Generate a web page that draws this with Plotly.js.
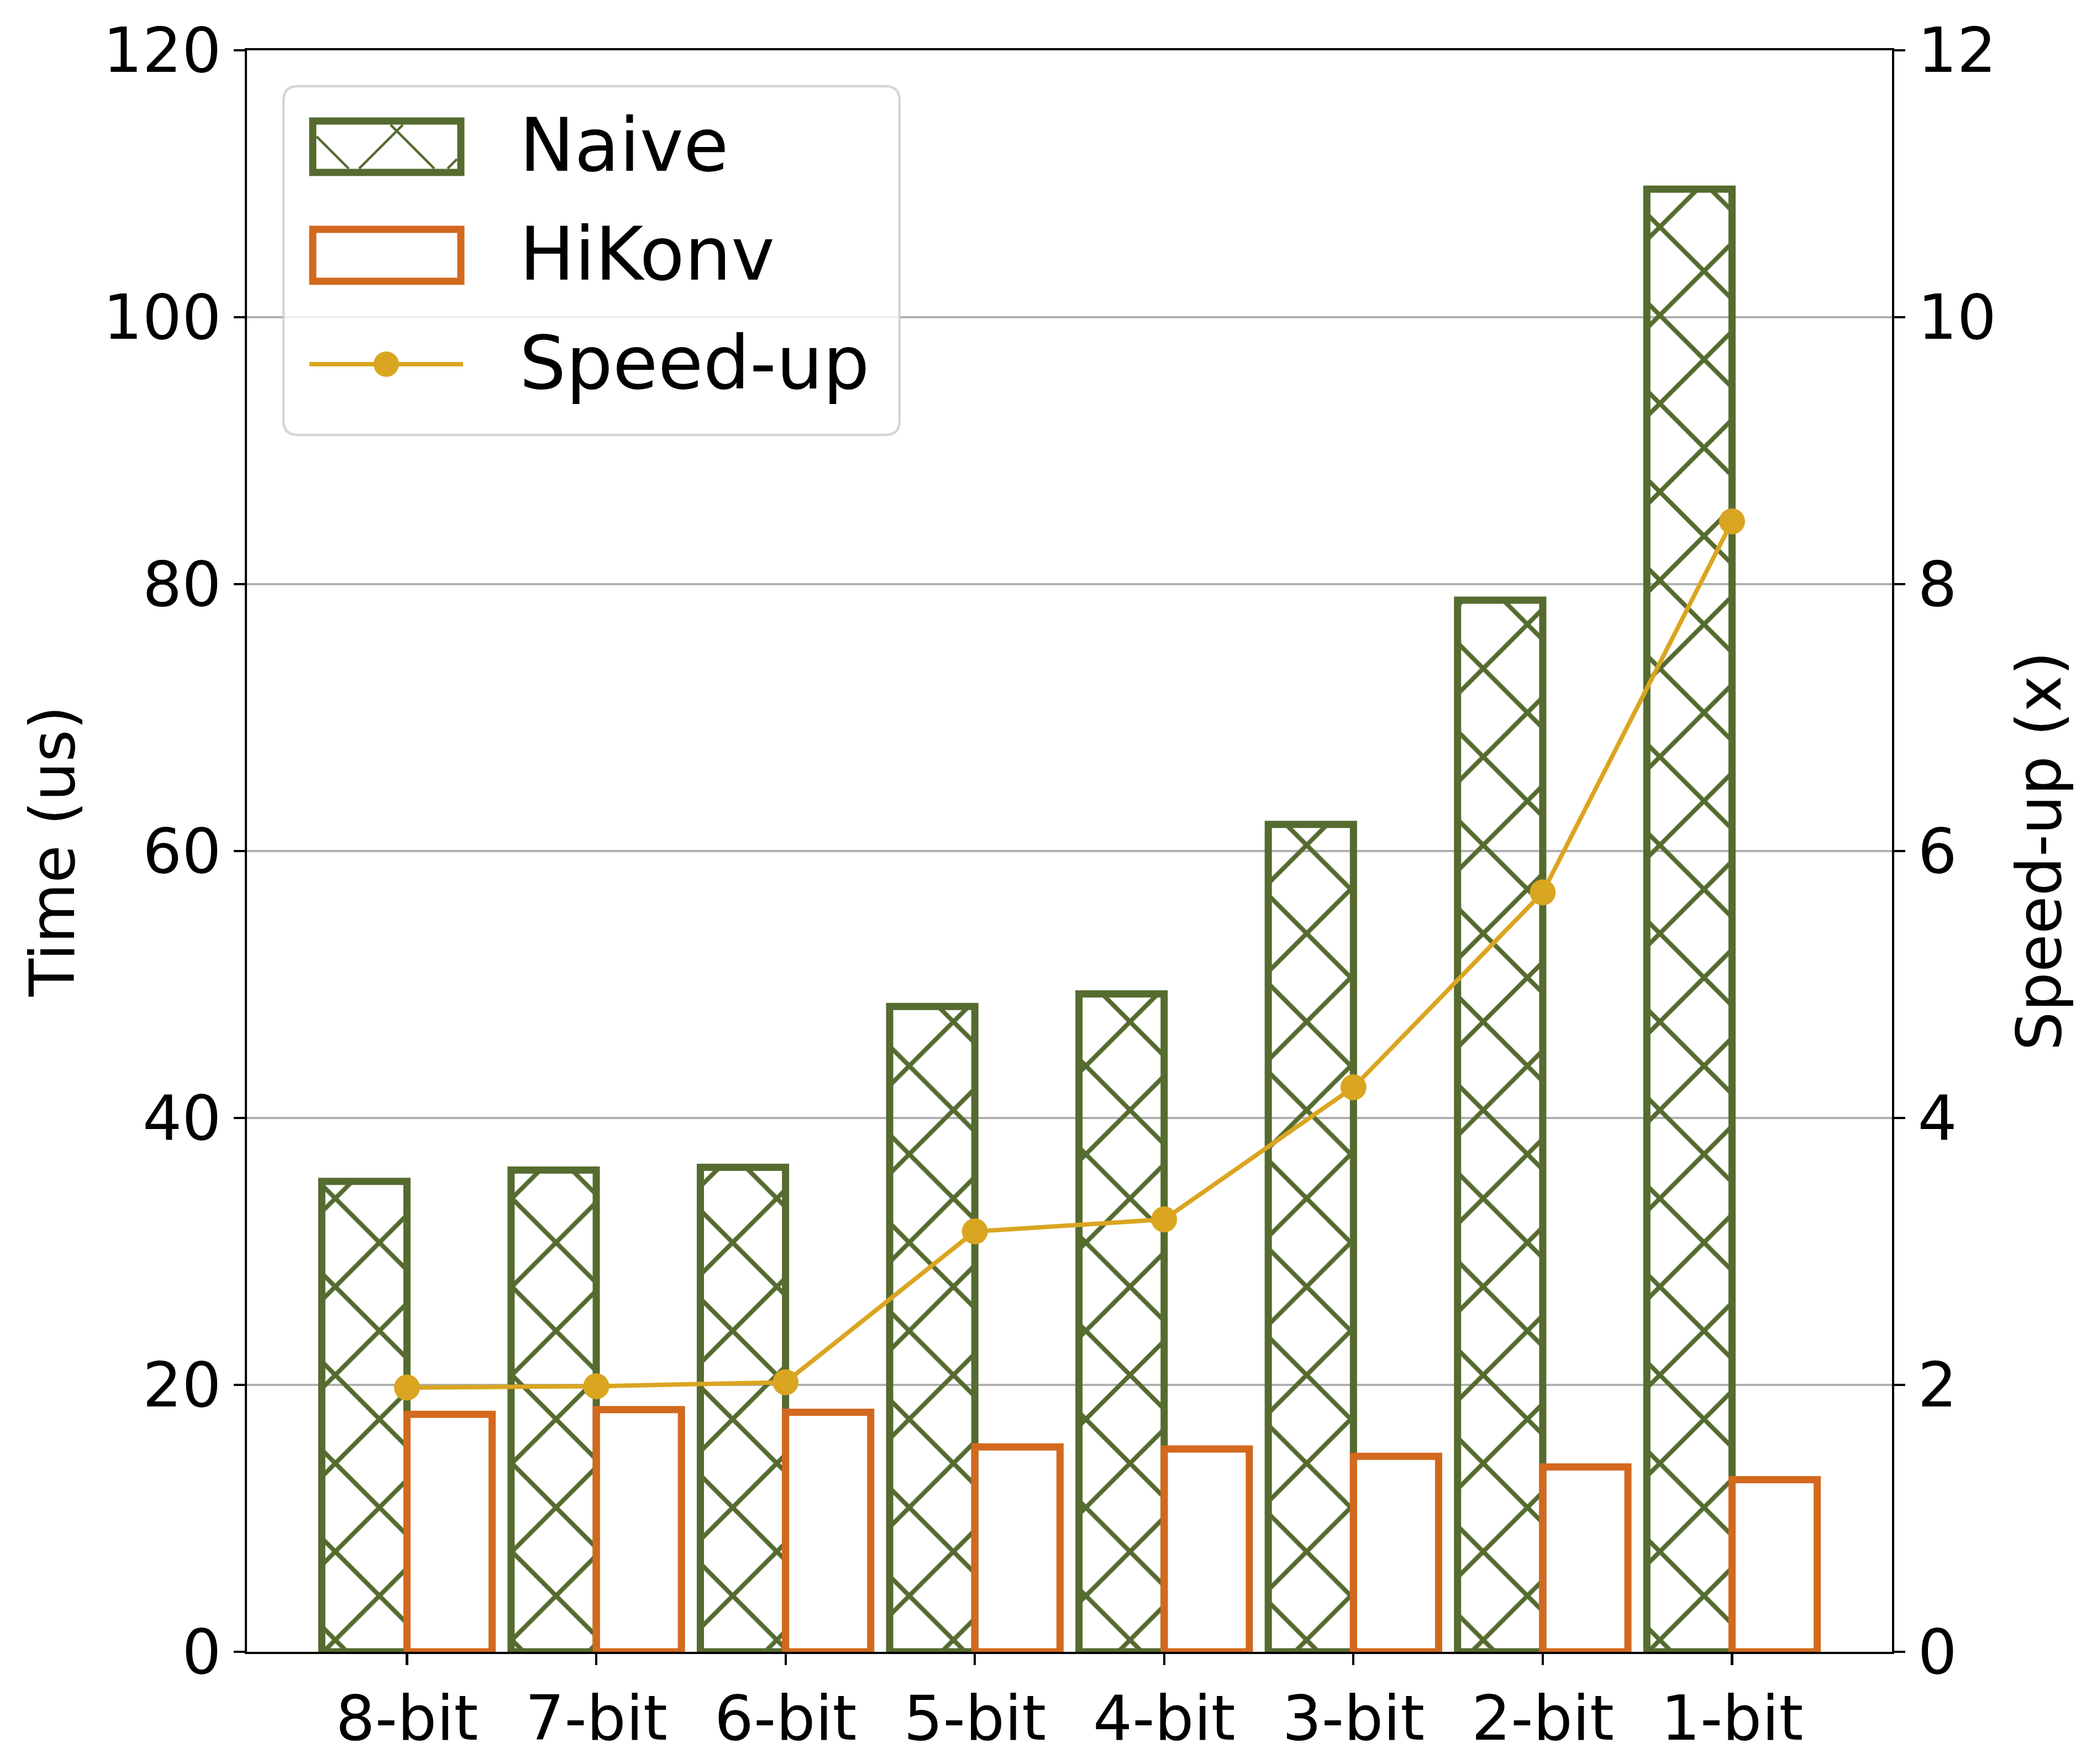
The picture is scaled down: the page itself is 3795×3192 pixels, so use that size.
<!DOCTYPE html>
<html>
<head>
<meta charset="utf-8">
<script src="https://cdn.plot.ly/plotly-3.0.1.min.js"></script>
<style>
html, body { margin: 0; padding: 0; background: #fff; }
#chart { width: 3795px; height: 3192px; }
</style>
</head>
<body>
<div id="chart"></div>
<script>
// bit widths on the x axis
var bits = ["8-bit", "7-bit", "6-bit", "5-bit", "4-bit", "3-bit", "2-bit", "1-bit"];
// execution time (us)
var naiveTime = [35.25, 36.1, 36.3, 48.35, 49.3, 62.0, 78.8, 109.6];
var hikonvTime = [17.8, 18.15, 17.95, 15.35, 15.2, 14.65, 13.85, 12.9];
// speed-up of HiKonv over naive (x)
var speedUp = [1.98, 1.99, 2.02, 3.15, 3.24, 4.23, 5.69, 8.47];

var green = "#556B2F", orange = "#D2691E", gold = "#DAA520";
var font = "DejaVu Sans";

// plot area in page pixels, used to place the hand drawn legend
var L = 447, R = 3424, T = 91, B = 2989;
function px(x) { return (x - L) / (R - L); }
function py(y) { return (B - y) / (B - T); }

var naive = {
    x: bits, y: naiveTime, name: "Naive", type: "bar",
    marker: {
        color: "rgba(0,0,0,0)",
        line: {color: green, width: 13},
        pattern: {shape: "x", size: 113, solidity: 0.14, fgcolor: green, bgcolor: "rgba(0,0,0,0)"}
    }
};
var hikonv = {
    x: bits, y: hikonvTime, name: "HiKonv", type: "bar",
    marker: {color: "rgba(0,0,0,0)", line: {color: orange, width: 13}}
};
var speed = {
    x: bits, y: speedUp, name: "Speed-up", type: "scatter", mode: "lines+markers",
    yaxis: "y2",
    line: {color: gold, width: 8},
    marker: {color: gold, size: 47}
};

// legend box with rounded corners
var r = 26;
var bx0 = 513, bx1 = 1628, by0 = 156, by1 = 787;
var boxPath = "M" + px(bx0 + r) + "," + py(by0) +
    " L" + px(bx1 - r) + "," + py(by0) +
    " Q" + px(bx1) + "," + py(by0) + " " + px(bx1) + "," + py(by0 + r) +
    " L" + px(bx1) + "," + py(by1 - r) +
    " Q" + px(bx1) + "," + py(by1) + " " + px(bx1 - r) + "," + py(by1) +
    " L" + px(bx0 + r) + "," + py(by1) +
    " Q" + px(bx0) + "," + py(by1) + " " + px(bx0) + "," + py(by1 - r) +
    " L" + px(bx0) + "," + py(by0 + r) +
    " Q" + px(bx0) + "," + py(by0) + " " + px(bx0 + r) + "," + py(by0) + " Z";

function seg(x0, y0, x1, y1, color, w) {
    return {type: "line", xref: "paper", yref: "paper", layer: "above",
        x0: px(x0), y0: py(y0), x1: px(x1), y1: py(y1), line: {color: color, width: w}};
}
function box(x0, y0, x1, y1, color) {
    return {type: "rect", xref: "paper", yref: "paper", layer: "above",
        x0: px(x0), y0: py(y0), x1: px(x1), y1: py(y1), line: {color: color, width: 13}};
}

var shapes = [
    {type: "path", xref: "paper", yref: "paper", layer: "above", path: boxPath,
        fillcolor: "rgba(255,255,255,0.8)", line: {color: "rgba(204,204,204,0.8)", width: 4.5}},
    seg(573, 247, 631, 305, green, 4.5),
    seg(650, 305, 729, 226, green, 4.5),
    seg(707, 226, 786, 305, green, 4.5),
    seg(810, 305, 827, 288, green, 4.5),
    box(566, 219, 834, 312, green),
    box(566, 415, 834, 509, orange),
    seg(560, 659, 838, 659, gold, 8),
    {type: "circle", xref: "paper", yref: "paper", layer: "above",
        x0: px(676), y0: py(636), x1: px(722), y1: py(682), fillcolor: gold, line: {width: 0}}
];

var legendNames = ["Naive", "HiKonv", "Speed-up"];
var legendRows = [263, 460, 657];
var annotations = legendNames.map(function (t, i) {
    return {text: t, xref: "paper", yref: "paper", x: px(938), y: py(legendRows[i]),
        xanchor: "left", yanchor: "middle", showarrow: false,
        font: {family: font, size: 133, color: "#000"}};
});

var axisCommon = {
    ticks: "outside", ticklen: 20, tickwidth: 4.2, tickcolor: "#000",
    showline: true, linecolor: "#000", linewidth: 4.2,
    tickfont: {family: font, size: 112, color: "#000"},
    zeroline: false
};

var layout = {
    width: 3795, height: 3192,
    margin: {l: L, r: 3795 - R, t: T, b: 3192 - B},
    paper_bgcolor: "#fff", plot_bgcolor: "#fff",
    showlegend: false,
    barmode: "group", bargap: 0.1, bargroupgap: 0,
    font: {family: font, color: "#000"},
    xaxis: Object.assign({}, axisCommon, {
        type: "category", range: [-0.845, 7.845], mirror: true, showgrid: false
    }),
    yaxis: Object.assign({}, axisCommon, {
        range: [0, 120], dtick: 20, showgrid: true, gridcolor: "#b0b0b0", gridwidth: 4.2,
        title: {text: "Time (us)", font: {family: font, size: 112}, standoff: 16}
    }),
    yaxis2: Object.assign({}, axisCommon, {
        range: [0, 12], dtick: 2, overlaying: "y", side: "right", showgrid: false,
        title: {text: "Speed-up (x)", font: {family: font, size: 112}, standoff: 40}
    }),
    shapes: shapes,
    annotations: annotations
};

Plotly.newPlot("chart", [naive, hikonv, speed], layout, {staticPlot: true});
</script>
</body>
</html>
